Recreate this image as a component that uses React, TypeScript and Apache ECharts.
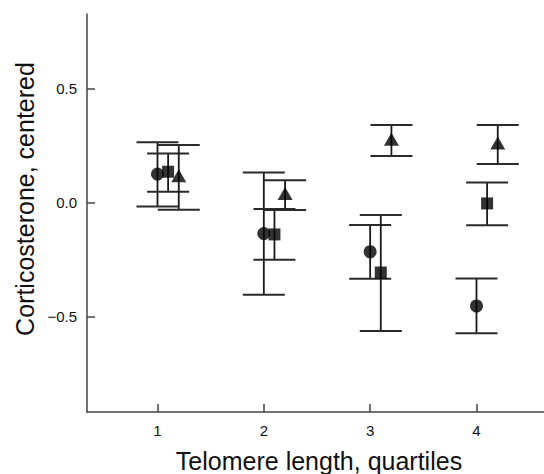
import React, { useEffect, useRef } from "react";
import * as echarts from "echarts";

const quartiles = [1, 2, 3, 4];
const yTicks = [-0.5, 0, 0.5];

const circleMean = [0.126, -0.135, -0.215, -0.453];
const circleLow = [-0.016, -0.404, -0.333, -0.573];
const circleHigh = [0.265, 0.133, -0.098, -0.332];

const squareMean = [0.136, -0.139, -0.306, -0.003];
const squareLow = [0.048, -0.25, -0.563, -0.099];
const squareHigh = [0.216, -0.028, -0.054, 0.089];

const triMean = [0.118, 0.041, 0.279, 0.262];
const triLow = [-0.031, -0.032, 0.205, 0.17];
const triHigh = [0.253, 0.099, 0.341, 0.341];

const FONT = "'Liberation Sans', Arial, Helvetica, sans-serif";

function errSeries(offset: number, low: number[], high: number[]) {
  return {
    type: "custom",
    renderItem: (params: any, api: any) => {
      const x = api.value(0);
      const pLo = api.coord([x, api.value(1)]);
      const pHi = api.coord([x, api.value(2)]);
      const hw = 21;
      const st = { stroke: "#1a1a1a", lineWidth: 1.8 };
      const cst = { stroke: "#2a2a2a", lineWidth: 2 };
      return {
        type: "group",
        children: [
          { type: "line", shape: { x1: pLo[0], y1: pLo[1], x2: pHi[0], y2: pHi[1] }, style: st },
          { type: "line", shape: { x1: pHi[0] - hw, y1: pHi[1], x2: pHi[0] + hw, y2: pHi[1] }, style: cst },
          { type: "line", shape: { x1: pLo[0] - hw, y1: pLo[1], x2: pLo[0] + hw, y2: pLo[1] }, style: cst },
        ],
      };
    },
    encode: { x: 0, y: [1, 2] },
    data: quartiles.map((q, i) => [q + offset, low[i], high[i]]),
    z: 2,
  };
}

function meanSeries(offset: number, mean: number[], symbol: string, size: any) {
  return {
    type: "scatter",
    symbol,
    symbolSize: size,
    itemStyle: { color: "#000" },
    data: quartiles.map((q, i) => [q + offset, mean[i]]),
    z: 3,
  };
}

export default function App() {
  const ref = useRef<HTMLDivElement>(null);
  useEffect(() => {
    document.body.style.margin = "0";
    const chart = echarts.init(ref.current!, null, { renderer: "svg" });
    const axisLine = { show: true, onZero: false, lineStyle: { color: "#444", width: 1.5 } };
    chart.setOption({
      animation: false,
      grid: { left: 87, top: 14, right: 0, bottom: 62, containLabel: false },
      xAxis: {
        type: "value",
        min: 0.337,
        max: 4.635,
        axisLine,
        splitLine: { show: false },
        axisTick: { show: true, inside: true, length: 8, customValues: quartiles, lineStyle: { color: "#444", width: 1.5 } },
        axisLabel: { customValues: quartiles, margin: 11, fontSize: 15, color: "#111", fontFamily: FONT, formatter: (v: number) => String(v) },
      },
      yAxis: {
        type: "value",
        min: -0.918,
        max: 0.828,
        axisLine,
        splitLine: { show: false },
        axisTick: { show: true, inside: true, length: 8, customValues: yTicks, lineStyle: { color: "#444", width: 1.5 } },
        axisLabel: {
          customValues: yTicks,
          margin: 10,
          fontSize: 15,
          color: "#111",
          fontFamily: FONT,
          formatter: (v: number) => v.toFixed(1).replace("-", "\u2212"),
        },
      },
      graphic: [
        {
          type: "text",
          x: 24.6,
          y: 199,
          rotation: Math.PI / 2,
          style: { text: "Corticosterone, centered", fontSize: 25, fontFamily: FONT, fill: "#111", align: "center", verticalAlign: "middle" },
        },
        {
          type: "text",
          x: 319,
          y: 461,
          style: { text: "Telomere length, quartiles", fontSize: 25, fontFamily: FONT, fill: "#111", align: "center", verticalAlign: "middle" },
        },
      ],
      series: [
        errSeries(0, circleLow, circleHigh),
        errSeries(0.1, squareLow, squareHigh),
        errSeries(0.2, triLow, triHigh),
        meanSeries(0, circleMean, "circle", 13),
        meanSeries(0.1, squareMean, "rect", 12),
        meanSeries(0.2, triMean, "triangle", [15, 13]),
      ],
    });
    return () => chart.dispose();
  }, []);
  return <div ref={ref} style={{ width: 544, height: 474 }} />;
}
